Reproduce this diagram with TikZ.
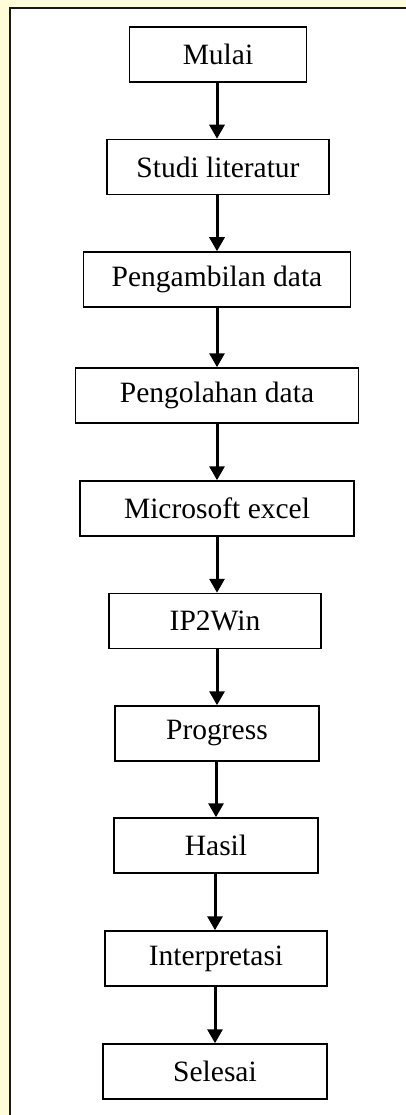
\documentclass[tikz,border=0pt]{standalone}
\usepackage{fontspec}
\setmainfont{Liberation Serif}
\usetikzlibrary{arrows.meta}
\definecolor{flowcolor0000}{RGB}{24,24,24}
\definecolor{flowcolor0001}{RGB}{255,252,218}

\begin{document}
\begin{tikzpicture}[yscale=-1
,fstyle0/.style={draw=black,fill=white,line width=1.5pt,minimum height=55pt,inner sep=0pt,font=\fontsize{29.5pt}{34pt}\selectfont}
,fstyle1/.style={color=black,line width=3pt,-{Triangle[width=15pt,length=14pt]}}
,fstyle2/.style={color=flowcolor0000,line width=1.3pt}
]
\useasboundingbox (0pt,0pt) rectangle (406pt,1115pt);
\fill[flowcolor0001] (0pt,0pt) rectangle (406pt,1115pt);
\fill[white] (10pt,8pt) rectangle (406pt,1115pt);
\draw[fstyle2] (10pt,1115pt) -- (10pt,8pt) -- (406pt,8pt);
\node[fstyle0,minimum width=177pt] (mulai) at (218pt,54.5pt) {Mulai};
\node[fstyle0,minimum width=222pt] (studi) at (218pt,167pt) {Studi literatur};
\node[fstyle0,minimum width=267pt] (ambil) at (217pt,279.5pt) {Pengambilan data};
\node[fstyle0,minimum width=283pt] (olah) at (217pt,395.5pt) {Pengolahan data};
\node[fstyle0,minimum width=274pt] (excel) at (217pt,508.5pt) {Microsoft excel};
\node[fstyle0,minimum width=212pt] (ipwin) at (215pt,621pt) {IP2Win};
\node[fstyle0,minimum width=204pt] (progress) at (217pt,733.5pt) {Progress};
\node[fstyle0,minimum width=204pt] (hasil) at (216pt,845.5pt) {Hasil};
\node[fstyle0,minimum width=222pt] (interp) at (216pt,958.5pt) {Interpretasi};
\node[fstyle0,minimum width=224pt] (selesai) at (215pt,1071.5pt) {Selesai};
\draw[fstyle1] (mulai.south -| 217pt,0) -- (studi.north -| 217pt,0);
\draw[fstyle1] (studi.south -| 217pt,0) -- (ambil.north -| 217pt,0);
\draw[fstyle1] (ambil.south -| 217pt,0) -- (olah.north -| 217pt,0);
\draw[fstyle1] (olah.south -| 217pt,0) -- (excel.north -| 217pt,0);
\draw[fstyle1] (excel.south -| 217pt,0) -- (ipwin.north -| 217pt,0);
\draw[fstyle1] (ipwin.south -| 217pt,0) -- (progress.north -| 217pt,0);
\draw[fstyle1] (progress.south -| 216pt,0) -- (hasil.north -| 216pt,0);
\draw[fstyle1] (hasil.south -| 215pt,0) -- (interp.north -| 215pt,0);
\draw[fstyle1] (interp.south -| 215pt,0) -- (selesai.north -| 215pt,0);
\end{tikzpicture}
\end{document}
